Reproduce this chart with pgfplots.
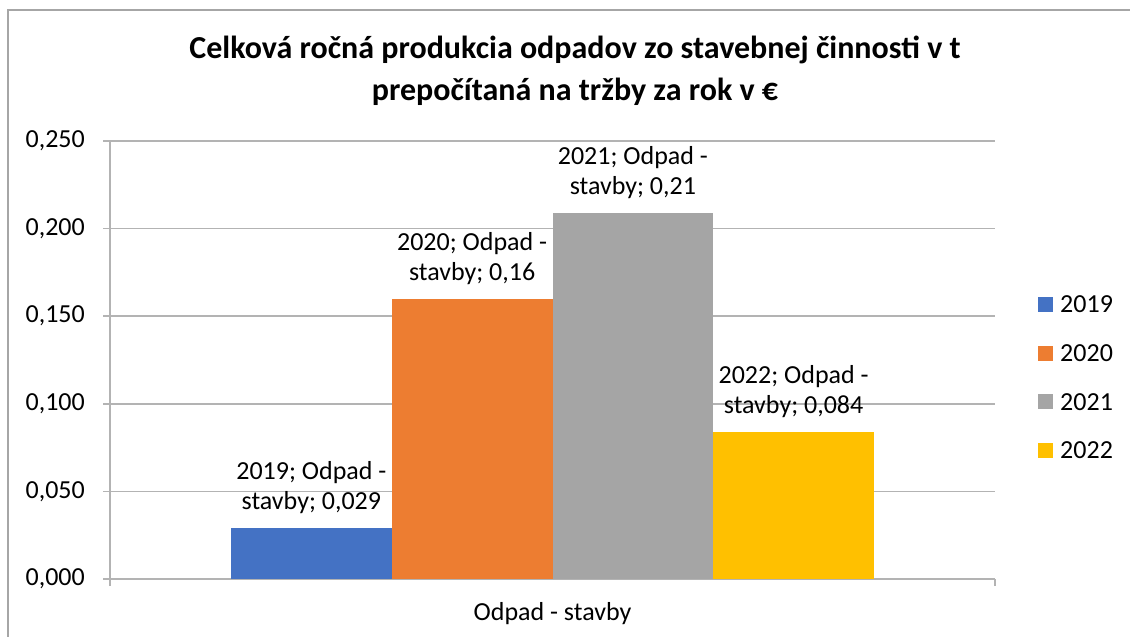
\documentclass[border=0pt]{standalone}
\usepackage{fontspec}
\setmainfont{Carlito}
\usepackage{pgfplots}
\pgfplotsset{compat=1.18}
\definecolor{c19}{HTML}{4472C4}
\definecolor{c20}{HTML}{ED7D31}
\definecolor{c21}{HTML}{A5A5A5}
\definecolor{c22}{HTML}{FFC000}
\definecolor{gridc}{HTML}{B3B3B3}
\definecolor{framec}{HTML}{A6A6A6}
\begin{document}
\begin{tikzpicture}[font=\fontsize{26}{30}\selectfont]
\path[use as bounding box] (0pt,0pt) rectangle (1130pt,637pt);
\draw[framec, line width=1.5pt] (8pt,-5pt) -- (8pt,627pt) -- (1140pt,627pt);
\node[align=center, font=\fontsize{32}{42}\selectfont\bfseries] at (575pt,566pt)
  {Celková ročná produkcia odpadov zo stavebnej činnosti v t\\prepočítaná na tržby za rok v €};
\begin{axis}[
  at={(110pt,58pt)}, anchor=south west,
  scale only axis, width=885pt, height=438pt,
  xmin=-0.5, xmax=0.5, ymin=0, ymax=0.25,
  axis x line*=bottom, axis y line*=left,
  axis line style={gridc, line width=1.5pt, -},
  ybar=0pt, bar width=160.75pt,
  ytick={0,0.05,0.1,0.15,0.2,0.25},
  xtick={-0.5,0.5}, xticklabels={},
  tick align=outside, major tick length=7pt,
  tick style={gridc, line width=1.5pt},
  ymajorgrids, grid style={gridc, line width=1.5pt},
  /pgf/number format/assume math mode=true,
  yticklabel={\pgfmathprintnumber[fixed, fixed zerofill, precision=3, use comma]{\tick}},
  yticklabel style={inner sep=0pt, anchor=east, xshift=-18pt},
  xlabel={Odpad - stavby},
  xlabel style={at={(axis description cs:0.5,0)}, anchor=center, yshift=-35pt},
  every node near coord/.append style={align=center, inner sep=0pt, anchor=south, yshift=14pt, black},
  legend style={at={(axis description cs:1.0486,0.459)}, anchor=west, draw=none, fill=none,
    inner sep=0pt, row sep=30.4pt, nodes={inner sep=0pt},
    /tikz/every odd column/.append style={column sep=7pt}},
  legend cell align=left,
  legend image code/.code={\fill[#1] (0pt,-7pt) rectangle (15pt,8pt);},
]
\addplot[fill=c19, draw=none, nodes near coords={2019; Odpad -\\stavby; 0,029}] coordinates {(0,0.029)};
\addplot[fill=c20, draw=none, nodes near coords={2020; Odpad -\\stavby; 0,16}] coordinates {(0,0.160)};
\addplot[fill=c21, draw=none, nodes near coords={2021; Odpad -\\stavby; 0,21}] coordinates {(0,0.209)};
\addplot[fill=c22, draw=none, nodes near coords={2022; Odpad -\\stavby; 0,084}] coordinates {(0,0.084)};
\legend{2019,2020,2021,2022}
\end{axis}
\end{tikzpicture}
\end{document}
